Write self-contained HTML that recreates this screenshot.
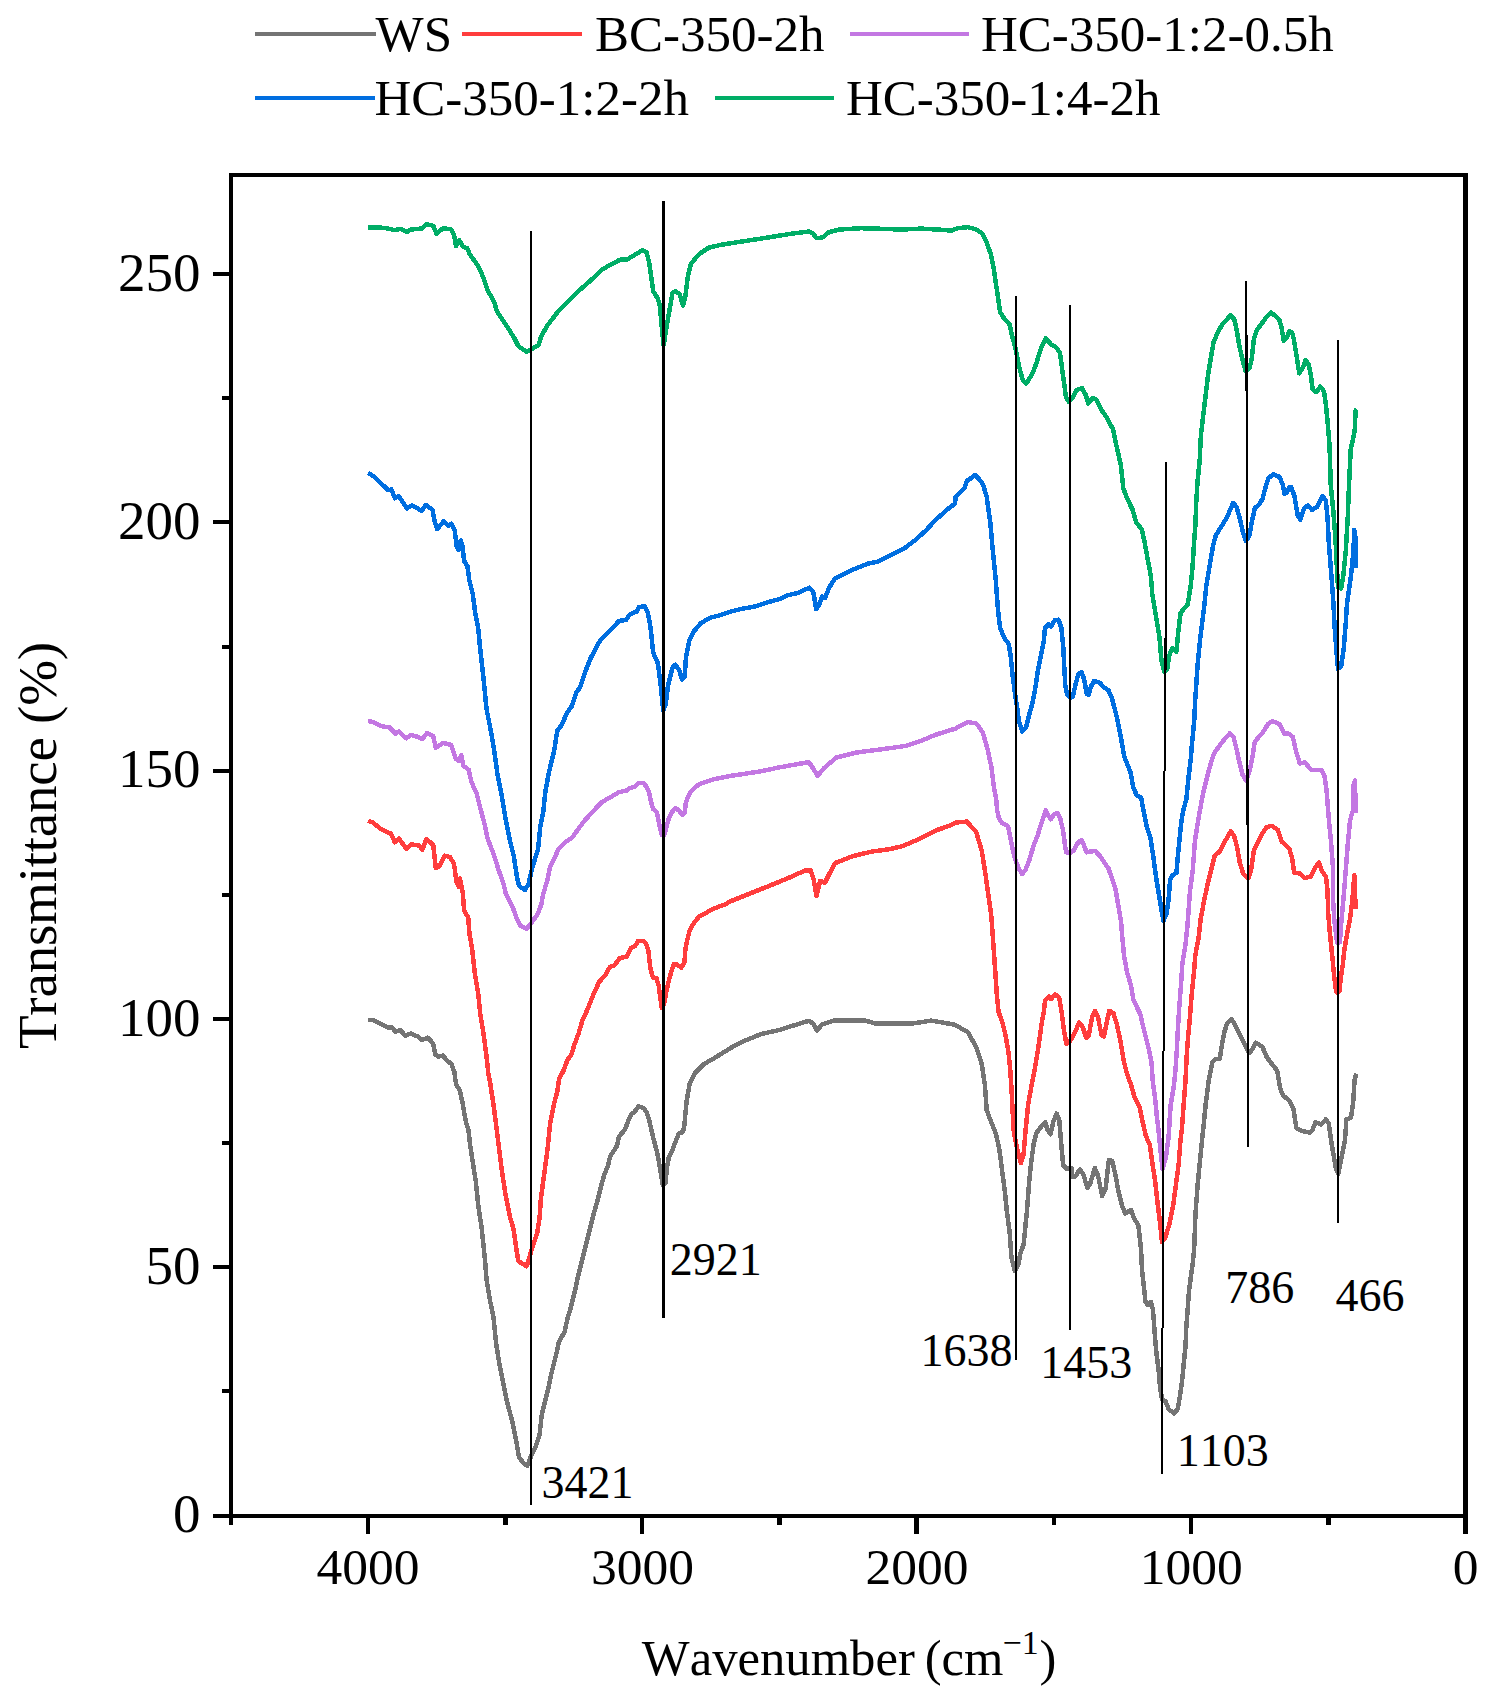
<!DOCTYPE html>
<html><head><meta charset="utf-8"><title>FTIR spectra</title>
<style>html,body{margin:0;padding:0;background:#fff;width:1490px;height:1697px;overflow:hidden}svg{display:block} text{font-kerning:none}</style>
</head><body>
<svg width="1490" height="1697" viewBox="0 0 1490 1697">
<rect x="0" y="0" width="1490" height="1697" fill="#fff"/>
<line x1="255" y1="34" x2="376" y2="34" stroke="#747474" stroke-width="4.2"/>
<text x="375.5" y="51" font-family="'Liberation Serif', 'Times New Roman', serif" font-size="51" fill="#000">WS</text>
<line x1="462" y1="34" x2="582" y2="34" stroke="#FF3D3D" stroke-width="4.2"/>
<text x="595" y="51" font-family="'Liberation Serif', 'Times New Roman', serif" font-size="51" fill="#000">BC-350-2h</text>
<line x1="850" y1="34" x2="969" y2="34" stroke="#C377E2" stroke-width="4.2"/>
<text x="981" y="51" font-family="'Liberation Serif', 'Times New Roman', serif" font-size="51" fill="#000">HC-350-1:2-0.5h</text>
<line x1="255" y1="98" x2="375" y2="98" stroke="#006EE0" stroke-width="4.2"/>
<text x="374.5" y="115" font-family="'Liberation Serif', 'Times New Roman', serif" font-size="51" fill="#000">HC-350-1:2-2h</text>
<line x1="715" y1="98" x2="834" y2="98" stroke="#00AD66" stroke-width="4.2"/>
<text x="846" y="115" font-family="'Liberation Serif', 'Times New Roman', serif" font-size="51" fill="#000">HC-350-1:4-2h</text>
<g fill="none" stroke-width="4.5" stroke-linejoin="round" stroke-linecap="butt" shape-rendering="crispEdges">
<polyline points="367.5,1019.8 372.3,1019.8 378.9,1023.1 383.6,1025.0 388.3,1027.8 392.0,1027.3 395.3,1031.6 400.5,1030.2 405.2,1035.8 410.9,1033.5 418.4,1036.8 421.7,1040.1 427.9,1037.7 433.0,1043.4 435.4,1054.7 438.2,1056.6 442.9,1055.6 446.7,1060.3 451.4,1064.1 454.3,1071.6 456.1,1084.8 459.9,1090.5 462.7,1103.7 465.6,1120.6 468.4,1130.1 470.3,1146.1 472.4,1160.0 475.9,1182.0 478.3,1205.6 481.8,1229.2 485.0,1260.0 486.5,1279.4 489.7,1298.9 493.6,1318.3 496.2,1344.2 499.4,1363.7 503.3,1383.1 507.2,1402.5 512.4,1422.0 516.3,1441.4 518.9,1457.0 522.8,1462.2 527.3,1466.0 531.2,1455.7 535.7,1446.6 539.6,1434.9 541.6,1415.5 544.8,1402.5 548.0,1389.6 550.6,1376.6 553.9,1363.7 557.1,1350.7 559.0,1341.6 564.2,1332.6 565.1,1330.0 567.2,1319.7 570.4,1309.1 573.0,1298.5 575.7,1287.9 577.8,1277.3 580.5,1266.6 583.1,1256.0 585.8,1245.4 588.4,1234.8 591.1,1224.2 593.7,1213.6 596.9,1203.0 599.5,1192.4 602.2,1181.8 604.8,1173.3 608.0,1165.9 610.1,1156.4 617.0,1145.8 619.0,1136.4 625.0,1129.7 628.4,1120.3 631.7,1113.6 634.4,1112.2 638.5,1106.2 643.8,1108.2 646.5,1112.2 649.2,1120.3 653.2,1137.7 657.2,1152.5 659.9,1167.2 662.6,1184.7 665.3,1183.4 667.3,1165.9 668.7,1157.9 672.0,1151.1 676.0,1140.4 678.7,1133.7 682.1,1132.3 684.1,1128.3 685.4,1113.6 686.8,1100.1 689.7,1083.8 695.0,1073.0 703.6,1064.4 714.4,1058.0 733.7,1046.2 744.4,1040.8 761.6,1033.9 778.8,1030.1 798.1,1024.1 808.9,1020.8 813.2,1023.6 817.0,1030.5 821.8,1024.7 834.6,1020.4 864.7,1020.4 875.4,1023.6 912.0,1023.6 931.3,1020.6 954.9,1024.7 967.8,1032.2 976.4,1047.3 981.8,1064.4 985.0,1085.9 986.7,1110.1 990.7,1120.9 996.1,1134.3 999.5,1150.4 1002.1,1170.5 1004.8,1190.7 1006.8,1210.8 1009.5,1230.9 1011.5,1257.8 1014.9,1271.2 1018.3,1264.5 1020.3,1253.8 1023.6,1244.4 1025.6,1224.2 1027.0,1210.8 1029.0,1184.0 1031.0,1163.8 1033.7,1143.7 1036.4,1133.0 1040.4,1127.6 1045.1,1122.2 1047.8,1130.3 1050.5,1134.3 1053.2,1122.2 1056.5,1113.5 1059.2,1119.5 1061.2,1143.7 1063.2,1165.2 1067.2,1169.2 1071.3,1167.9 1072.6,1177.2 1075.3,1176.6 1080.0,1169.2 1083.4,1174.6 1087.4,1188.0 1090.1,1184.0 1094.8,1167.9 1098.1,1175.9 1102.1,1196.0 1105.5,1189.3 1108.9,1159.8 1112.2,1161.1 1115.6,1175.9 1118.3,1190.7 1121.6,1204.1 1125.0,1213.5 1131.0,1210.1 1134.4,1218.9 1138.4,1225.6 1141.1,1250.0 1142.0,1270.0 1144.0,1288.1 1145.5,1302.1 1148.0,1305.1 1151.0,1302.1 1153.0,1310.1 1154.5,1330.2 1156.1,1350.2 1158.6,1370.2 1160.1,1388.3 1162.1,1399.3 1165.6,1401.3 1168.6,1409.3 1174.1,1413.3 1177.6,1409.3 1180.1,1395.3 1182.1,1380.3 1184.1,1360.2 1185.6,1345.2 1186.1,1330.2 1187.6,1310.1 1189.1,1290.1 1191.1,1275.0 1192.6,1265.0 1194.1,1250.0 1195.5,1213.6 1197.7,1184.1 1200.6,1154.7 1203.6,1125.2 1205.8,1103.1 1208.7,1081.0 1212.4,1061.9 1215.4,1058.9 1219.8,1058.9 1222.0,1044.2 1224.2,1032.4 1227.1,1023.6 1231.6,1019.1 1235.2,1025.0 1240.4,1035.4 1245.5,1045.7 1249.2,1053.0 1252.9,1048.6 1255.9,1042.7 1262.5,1047.1 1266.9,1057.4 1271.3,1063.3 1277.2,1070.7 1280.2,1088.4 1283.1,1095.7 1289.0,1100.2 1293.4,1109.0 1296.4,1128.1 1302.3,1131.1 1309.6,1132.6 1312.6,1129.6 1315.5,1122.3 1321.4,1124.5 1325.8,1119.3 1328.8,1123.7 1331.7,1144.4 1336.1,1169.4 1338.3,1173.8 1340.6,1162.0 1345.0,1139.9 1346.4,1119.3 1350.9,1117.8 1353.1,1103.1 1354.5,1081.0 1356.0,1073.6" stroke="#747474"/>
<polyline points="368.1,820.8 373.4,822.8 378.8,827.5 384.2,830.9 390.9,833.6 394.9,842.3 398.9,838.3 406.3,849.0 411.0,844.3 419.1,845.6 422.4,849.7 426.4,838.9 433.2,845.0 435.8,867.8 439.2,866.4 444.6,855.7 449.9,857.0 454.0,863.8 456.6,882.6 458.8,886.7 460.0,878.5 462.8,893.4 464.2,910.9 468.2,917.6 469.5,933.7 472.2,949.8 474.9,974.0 478.3,994.1 480.3,1014.2 483.6,1034.4 486.3,1054.5 488.5,1075.0 490.0,1081.8 493.6,1105.4 495.9,1123.1 498.9,1146.7 501.8,1170.2 505.4,1193.8 510.1,1217.4 513.6,1229.2 516.0,1246.9 518.3,1261.0 521.9,1263.4 526.6,1266.3 529.0,1258.7 532.5,1246.9 537.2,1232.7 539.6,1217.4 540.8,1199.7 543.1,1182.0 545.5,1164.3 547.8,1146.7 550.2,1123.1 553.7,1105.4 557.3,1091.2 559.0,1079.4 563.5,1070.6 567.5,1059.9 571.5,1054.5 574.2,1045.1 578.3,1034.4 582.3,1020.9 587.7,1008.9 593.0,995.4 599.1,982.0 605.1,975.3 609.8,967.2 614.5,965.2 619.9,957.9 626.4,956.9 630.7,948.3 635.0,946.2 638.3,940.8 643.1,940.8 646.3,944.0 648.5,951.5 650.1,966.6 652.8,977.3 656.5,978.4 658.7,985.9 661.8,1007.8 664.0,1004.2 666.2,992.3 668.3,982.7 671.5,970.9 673.7,964.4 676.9,964.4 681.2,967.7 684.4,962.3 685.5,948.3 687.1,940.8 689.8,930.1 694.1,922.6 699.5,916.1 705.9,912.9 711.3,909.7 716.6,907.5 725.2,904.3 730.0,901.5 748.8,894.0 767.6,886.5 786.4,878.9 805.2,870.5 810.8,870.5 813.6,878.9 816.5,895.8 820.2,880.8 824.9,882.7 829.6,873.3 835.2,863.0 842.8,860.1 852.2,856.4 871.0,851.7 889.7,849.2 902.9,846.0 917.9,839.5 936.7,830.1 948.0,826.3 955.5,822.6 966.8,821.6 976.2,832.0 981.8,850.7 985.6,875.2 989.1,900.0 991.5,917.7 992.7,935.3 994.4,958.9 995.6,976.6 996.8,994.3 998.6,1011.9 1002.7,1023.7 1005.6,1035.5 1008.6,1053.2 1010.3,1070.9 1011.5,1088.5 1013.6,1130.3 1016.9,1147.7 1020.9,1163.2 1023.6,1154.4 1025.6,1130.3 1028.3,1103.4 1032.1,1082.6 1034.5,1070.9 1037.4,1053.2 1039.2,1041.4 1041.6,1023.7 1043.9,1011.9 1045.1,1000.2 1048.6,996.6 1051.0,999.0 1055.1,994.3 1059.2,997.8 1061.6,1011.9 1063.9,1029.6 1066.3,1043.7 1069.8,1041.4 1073.4,1035.5 1079.3,1022.5 1082.8,1027.3 1086.3,1037.9 1088.7,1035.5 1092.2,1016.6 1095.2,1010.8 1098.1,1017.8 1101.6,1035.5 1104.0,1036.7 1106.4,1023.7 1109.3,1010.8 1113.4,1013.1 1117.0,1024.9 1120.5,1041.4 1123.4,1059.1 1126.4,1072.0 1131.1,1085.0 1134.4,1096.7 1139.7,1107.4 1142.4,1120.9 1145.8,1135.6 1149.8,1145.0 1152.5,1163.8 1155.2,1181.3 1157.2,1200.1 1159.9,1221.5 1161.9,1241.7 1165.2,1237.7 1169.3,1224.2 1173.3,1204.1 1176.0,1184.0 1178.7,1163.8 1180.5,1140.0 1181.8,1130.0 1183.6,1105.6 1185.5,1080.9 1186.7,1056.1 1188.0,1037.6 1189.8,1019.0 1191.7,994.3 1194.2,969.5 1195.4,954.7 1198.5,938.6 1200.6,919.3 1204.1,900.9 1207.6,884.0 1211.9,867.0 1214.7,855.7 1220.0,851.3 1225.7,840.0 1230.6,831.5 1234.1,835.7 1237.0,847.0 1239.8,862.6 1243.3,873.9 1248.3,878.1 1251.1,869.7 1253.9,849.9 1257.5,842.8 1261.7,834.3 1266.7,827.2 1271.6,825.8 1278.0,830.1 1281.5,841.4 1289.3,848.5 1292.1,858.3 1294.2,872.5 1299.2,873.2 1304.8,878.1 1310.5,876.7 1314.7,868.2 1319.0,862.6 1321.8,871.1 1326.0,876.7 1327.5,890.9 1328.2,913.0 1329.2,925.9 1330.5,938.9 1331.8,951.8 1333.1,964.8 1334.3,977.8 1336.0,990.7 1337.5,993.0 1339.5,990.7 1340.8,977.8 1342.8,964.8 1344.1,951.8 1346.0,940.2 1348.0,929.2 1349.9,919.4 1352.2,902.2 1354.3,875.3 1355.7,909.2" stroke="#FF3D3D"/>
<polyline points="368.1,720.8 374.8,722.8 381.5,726.2 389.5,727.5 395.6,733.6 398.9,731.5 406.3,738.3 411.0,734.9 417.7,736.9 422.4,738.9 427.1,732.9 433.2,736.2 435.8,747.7 443.2,743.0 451.3,745.0 456.0,759.1 459.3,761.1 461.3,755.0 463.4,765.8 468.7,769.8 471.4,781.9 476.8,794.0 480.8,810.1 484.8,824.8 487.5,838.3 494.2,855.7 498.3,869.1 503.6,883.9 505.8,893.4 512.5,906.8 516.5,917.6 520.5,925.6 526.6,929.0 531.3,923.0 538.0,913.6 541.3,904.2 543.4,893.4 547.4,880.0 549.8,868.0 558.7,848.8 566.0,841.5 571.9,837.8 577.8,829.7 583.7,821.6 591.1,813.5 601.4,802.4 610.2,797.3 619.1,792.1 626.4,790.6 630.0,788.1 635.4,786.4 638.1,783.2 644.0,783.2 647.2,788.1 649.3,793.4 650.9,801.5 653.1,809.0 656.8,812.2 658.5,820.3 660.1,828.3 661.7,834.8 664.4,834.8 666.5,827.2 668.7,818.7 671.9,812.2 675.6,807.9 679.4,811.1 682.1,814.9 684.8,812.2 685.8,802.6 688.0,797.2 690.7,791.8 695.5,787.0 699.8,783.8 705.2,782.1 714.5,779.0 731.9,775.7 756.7,772.0 781.5,767.0 808.9,762.1 813.8,769.5 817.6,775.7 823.8,768.3 836.2,757.6 856.0,752.6 888.3,748.4 905.7,745.9 920.6,741.0 935.5,734.8 955.4,728.6 967.8,721.9 976.5,723.6 982.7,732.3 987.7,749.7 991.4,767.0 993.9,786.9 996.3,800.0 997.2,810.5 998.9,818.3 1002.0,823.1 1008.1,826.2 1009.8,834.9 1011.6,843.6 1013.3,852.4 1015.9,861.1 1018.6,868.1 1022.1,874.2 1025.5,869.8 1029.0,861.1 1031.6,852.4 1034.3,843.6 1037.8,834.9 1040.4,826.2 1043.4,817.5 1045.6,810.5 1047.8,814.8 1050.8,819.2 1054.3,814.0 1057.8,813.1 1060.4,819.2 1063.1,830.5 1064.8,843.6 1066.1,852.4 1070.9,852.4 1073.5,850.6 1077.9,842.8 1081.4,840.1 1084.0,845.4 1086.6,852.4 1090.1,851.5 1095.3,851.0 1100.6,856.7 1105.0,863.7 1108.4,868.1 1111.9,878.5 1115.0,887.3 1116.7,896.0 1118.9,909.1 1121.1,922.2 1122.4,938.6 1124.2,957.1 1127.3,973.2 1131.0,985.6 1133.5,1000.4 1140.3,1014.1 1142.8,1025.2 1145.9,1037.6 1149.0,1050.0 1151.5,1062.3 1152.7,1080.9 1155.2,1099.5 1157.0,1118.0 1158.5,1130.3 1160.5,1150.4 1162.6,1169.2 1165.9,1157.1 1168.6,1137.0 1170.6,1105.6 1173.7,1087.1 1175.6,1068.5 1176.8,1050.0 1178.1,1025.2 1179.3,1006.6 1181.2,981.9 1182.4,963.3 1185.5,944.8 1187.4,926.2 1188.5,912.0 1190.0,891.0 1192.8,869.8 1194.9,841.5 1197.0,827.4 1199.9,810.4 1203.4,792.0 1207.6,775.0 1211.9,759.4 1214.7,752.4 1221.8,742.5 1224.2,739.6 1229.9,733.2 1233.4,736.8 1236.3,748.1 1239.1,760.8 1242.6,774.9 1246.2,780.6 1249.7,770.7 1252.5,756.6 1254.6,742.4 1258.2,737.5 1262.4,733.2 1268.1,724.0 1272.3,721.2 1279.4,724.0 1284.3,733.9 1287.9,733.2 1292.8,736.8 1296.3,752.3 1299.9,763.6 1304.8,762.2 1311.2,770.0 1321.8,770.0 1324.6,776.3 1326.7,791.9 1328.9,820.2 1331.0,841.4 1333.1,869.7 1333.1,900.0 1334.3,919.4 1336.3,937.0 1337.5,943.0 1339.9,942.1 1341.5,919.4 1343.4,900.0 1345.8,869.7 1348.0,841.4 1350.1,820.2 1352.9,810.3 1353.6,784.8 1355.0,780.6 1355.7,813.1" stroke="#C377E2"/>
<polyline points="368.1,472.8 373.4,476.1 380.1,482.8 384.2,486.2 388.2,490.2 391.5,489.5 394.9,498.3 398.9,496.2 404.3,504.3 407.0,508.3 411.7,505.6 416.4,507.7 421.7,511.0 425.8,505.0 432.5,509.7 434.5,520.4 437.2,529.1 443.9,521.1 448.6,525.8 451.3,523.8 454.6,529.8 456.6,545.9 458.7,549.9 460.7,540.5 462.7,547.2 464.0,560.7 467.4,566.0 469.4,580.8 472.8,594.2 475.4,614.4 478.1,627.8 480.1,647.9 481.5,660.0 483.6,679.5 486.5,708.9 490.9,731.0 494.6,753.1 497.6,775.2 502.0,797.3 505.7,819.4 510.1,841.5 513.8,856.2 516.7,875.3 518.9,885.6 524.8,890.1 528.5,884.2 532.2,868.0 538.1,848.8 540.3,826.7 543.2,812.0 545.4,791.4 548.4,775.2 550.6,764.9 554.3,750.1 557.2,731.0 561.6,725.1 566.8,713.3 571.9,706.0 576.3,692.7 580.0,687.5 585.4,671.4 590.7,658.0 600.1,640.5 608.2,632.5 612.2,628.5 618.9,621.1 626.3,619.7 629.7,614.4 636.4,611.7 639.1,607.0 644.4,606.3 647.8,612.3 650.5,627.1 653.2,652.6 657.9,663.4 660.5,683.5 663.2,710.5 665.9,703.6 667.9,686.2 672.6,667.4 675.3,664.7 679.3,670.1 682.0,679.5 684.7,676.8 686.0,656.6 689.4,640.5 694.1,631.1 700.8,623.1 710.2,617.7 720.9,615.0 730.3,611.7 741.1,609.0 755.8,606.3 767.9,602.3 780.0,598.9 785.9,595.8 797.7,592.9 809.5,587.7 813.2,591.4 816.2,609.1 819.1,604.7 822.1,596.6 825.0,598.0 829.5,587.0 835.4,578.1 842.0,575.2 853.8,569.3 868.6,563.4 877.4,561.9 889.3,556.0 904.0,548.6 915.8,539.7 926.2,530.1 935.0,520.5 942.4,513.9 948.3,508.7 955.0,503.6 955.7,496.9 964.6,488.1 966.8,480.7 971.9,477.7 974.9,474.8 978.6,478.5 983.0,484.4 986.7,496.9 990.4,523.5 992.6,548.6 995.6,578.1 997.8,607.6 998.6,616.0 1000.3,628.2 1004.1,637.6 1008.8,644.2 1010.7,656.4 1012.6,675.2 1014.4,689.3 1017.2,708.1 1019.1,722.1 1022.4,731.5 1026.2,726.8 1028.5,717.4 1032.3,703.4 1035.1,689.3 1037.9,670.5 1040.7,656.4 1043.6,642.3 1045.0,628.2 1048.3,624.4 1051.1,626.3 1054.8,620.2 1058.6,619.7 1061.4,628.2 1063.3,647.0 1064.2,665.8 1065.2,684.6 1067.0,694.0 1069.9,697.7 1072.7,696.8 1075.5,684.6 1078.3,674.2 1081.6,672.3 1084.0,678.9 1086.8,694.0 1088.7,694.9 1091.0,686.4 1094.3,680.8 1099.9,682.7 1103.7,687.4 1108.4,690.2 1112.1,698.7 1117.1,718.4 1121.3,739.6 1124.2,756.6 1130.5,772.2 1133.3,787.7 1136.9,795.5 1141.1,797.6 1144.0,813.2 1146.8,827.4 1150.3,837.3 1153.2,855.7 1156.0,876.9 1159.5,898.1 1163.4,921.0 1166.6,913.7 1168.7,898.1 1170.1,879.7 1172.3,875.5 1176.5,872.6 1177.9,855.7 1179.3,841.5 1181.5,820.3 1183.6,809.0 1186.4,799.1 1188.5,777.8 1190.7,759.4 1192.1,742.5 1194.2,721.2 1195.2,700.0 1197.6,665.1 1200.4,636.8 1204.0,608.5 1206.1,587.3 1209.6,566.1 1213.2,544.9 1216.0,535.0 1223.1,523.6 1227.3,516.6 1233.0,503.1 1236.5,506.7 1240.0,519.4 1242.9,532.1 1245.7,540.6 1249.2,536.4 1252.1,520.8 1254.9,508.1 1259.8,503.8 1262.7,498.2 1264.8,489.7 1268.3,478.4 1273.3,474.1 1279.6,477.0 1282.5,484.0 1284.6,494.0 1286.7,492.5 1289.5,486.9 1291.3,487.2 1294.5,496.3 1297.8,515.8 1300.4,519.7 1304.3,508.0 1308.2,505.4 1312.0,509.9 1317.2,506.7 1322.4,496.3 1325.7,500.2 1327.6,518.4 1328.9,544.3 1331.5,576.7 1333.4,602.6 1334.7,628.6 1336.7,654.5 1338.0,668.8 1341.2,666.2 1343.8,648.0 1345.8,622.1 1347.1,602.6 1349.0,589.7 1350.9,576.7 1352.2,563.7 1353.5,550.8 1354.2,530.0 1355.5,537.8 1356.1,567.6" stroke="#006EE0"/>
<polyline points="368.1,227.5 380.1,227.5 388.2,228.5 394.9,230.2 400.3,228.9 407.0,232.0 411.0,229.5 421.7,228.5 426.4,224.2 433.2,225.8 436.5,233.6 443.2,228.2 451.3,229.5 454.0,234.9 456.0,246.3 459.3,240.3 463.4,247.0 467.4,248.3 469.4,253.7 474.1,260.4 478.1,265.8 483.5,277.9 487.5,289.9 494.2,302.0 496.9,311.4 502.3,319.5 507.7,327.5 514.4,338.3 518.4,346.3 526.4,351.7 531.8,349.0 538.5,345.0 541.2,336.2 547.7,325.0 558.9,310.5 568.6,300.8 576.6,292.8 589.5,281.5 602.4,269.4 612.1,263.8 620.1,259.7 626.6,259.7 634.6,254.9 642.7,250.1 646.7,252.5 649.1,262.2 653.2,291.1 657.2,297.6 659.6,304.0 663.6,345.5 666.9,325.0 672.5,292.8 675.7,291.1 679.7,294.4 683.0,305.6 685.4,296.0 687.8,276.6 691.0,263.8 699.1,254.1 708.7,247.7 720.0,245.0 730.2,243.3 760.4,238.7 790.6,233.8 808.7,231.6 812.7,233.2 816.8,238.3 822.8,237.2 828.9,232.2 838.9,229.6 861.1,228.2 881.2,228.8 901.3,229.6 921.5,228.6 941.6,229.8 951.7,230.6 957.7,228.2 967.8,227.2 975.8,229.2 981.9,233.2 985.9,240.3 990.9,254.4 994.0,270.5 997.4,293.4 1000.1,312.2 1003.5,317.6 1009.5,324.3 1012.2,336.4 1015.6,348.5 1018.9,365.9 1023.0,380.7 1026.3,383.4 1032.3,374.0 1036.4,363.2 1040.4,349.8 1045.8,338.4 1051.1,344.4 1055.8,347.1 1059.9,352.5 1063.2,376.6 1065.9,396.8 1068.6,401.5 1072.6,398.1 1076.6,390.1 1082.0,388.1 1086.0,395.4 1088.1,403.5 1092.8,398.1 1096.8,400.1 1100.8,408.9 1106.2,416.9 1112.9,429.0 1116.9,447.8 1120.9,465.2 1123.3,488.3 1127.6,499.6 1132.5,509.5 1136.1,522.2 1141.7,529.3 1144.6,542.0 1148.1,561.8 1150.9,576.0 1152.3,594.4 1155.9,615.6 1159.4,636.8 1161.5,660.8 1164.4,672.2 1167.2,669.3 1169.3,655.2 1172.1,648.1 1176.4,651.7 1178.5,629.7 1180.6,612.8 1184.2,608.5 1187.7,604.3 1190.5,587.3 1192.6,566.1 1194.1,542.0 1195.5,523.6 1196.2,502.4 1197.6,481.2 1199.7,460.0 1200.9,435.0 1204.5,404.8 1208.1,374.6 1210.5,360.0 1213.6,342.0 1217.8,332.3 1222.6,323.8 1226.2,320.2 1230.5,315.4 1234.1,319.0 1236.5,328.7 1239.5,346.8 1243.2,362.5 1245.6,370.9 1249.2,368.5 1251.6,360.0 1254.0,338.3 1257.0,329.9 1262.5,322.6 1266.7,316.6 1270.9,312.3 1274.6,315.4 1279.4,320.2 1281.8,328.7 1283.6,340.7 1286.6,338.3 1289.1,331.1 1292.1,332.3 1293.9,339.5 1296.3,354.0 1299.3,373.4 1303.0,367.3 1305.4,360.0 1308.4,363.7 1310.8,374.6 1312.6,389.1 1316.2,392.1 1320.5,386.6 1324.1,391.5 1325.9,404.8 1327.7,422.9 1329.5,445.0 1330.8,485.9 1333.4,511.9 1335.4,537.8 1336.7,563.7 1338.0,587.1 1341.2,588.4 1343.2,576.7 1345.8,550.8 1347.7,518.4 1348.8,490.0 1350.7,449.5 1353.1,438.6 1354.9,428.9 1355.5,410.8 1356.5,409.0" stroke="#00AD66"/>
</g>
<g stroke="#000" shape-rendering="crispEdges">
<line x1="531.0" y1="231" x2="531.0" y2="1504.5" stroke-width="2"/>
<line x1="663.5" y1="201" x2="663.5" y2="1317.5" stroke-width="3"/>
<line x1="1016.0" y1="296" x2="1016.0" y2="1359.5" stroke-width="2"/>
<line x1="1070.0" y1="305" x2="1070.0" y2="1330" stroke-width="2"/>
<line x1="1166.0" y1="462" x2="1166.0" y2="670" stroke-width="2"/>
<line x1="1165.0" y1="638" x2="1162.0" y2="1474.5" stroke-width="2"/>
<line x1="1246.0" y1="281" x2="1246.0" y2="390.6" stroke-width="2"/>
<line x1="1247.0" y1="335" x2="1247.0" y2="824.8" stroke-width="2"/>
<line x1="1248.0" y1="769" x2="1248.0" y2="1147" stroke-width="2"/>
<line x1="1338.0" y1="340" x2="1338.0" y2="1222.5" stroke-width="2"/>
</g>
<text x="541.5" y="1497.5" font-family="'Liberation Serif', 'Times New Roman', serif" font-size="46" fill="#000">3421</text>
<text x="669.8" y="1274.5" font-family="'Liberation Serif', 'Times New Roman', serif" font-size="46" fill="#000">2921</text>
<text x="920.5" y="1366" font-family="'Liberation Serif', 'Times New Roman', serif" font-size="46" fill="#000">1638</text>
<text x="1040.3" y="1378" font-family="'Liberation Serif', 'Times New Roman', serif" font-size="46" fill="#000">1453</text>
<text x="1176.8" y="1465.5" font-family="'Liberation Serif', 'Times New Roman', serif" font-size="46" fill="#000">1103</text>
<text x="1225.3" y="1303" font-family="'Liberation Serif', 'Times New Roman', serif" font-size="46" fill="#000">786</text>
<text x="1335.6" y="1311" font-family="'Liberation Serif', 'Times New Roman', serif" font-size="46" fill="#000">466</text>
<g fill="#000" shape-rendering="crispEdges">
<rect x="229" y="173" width="1239" height="4"/>
<rect x="229" y="1514" width="1239" height="4"/>
<rect x="229" y="173" width="4" height="1352"/>
<rect x="1463" y="173" width="5" height="1361"/>
<rect x="366" y="1516" width="4" height="18"/>
<rect x="640" y="1516" width="4" height="18"/>
<rect x="914" y="1516" width="5" height="18"/>
<rect x="1189" y="1516" width="4" height="18"/>
<rect x="503" y="1516" width="5" height="9"/>
<rect x="777" y="1516" width="5" height="9"/>
<rect x="1052" y="1516" width="4" height="9"/>
<rect x="1326" y="1516" width="5" height="9"/>
<rect x="213" y="1514" width="18" height="4"/>
<rect x="222" y="1389" width="9" height="4"/>
<rect x="213" y="1265" width="18" height="4"/>
<rect x="222" y="1141" width="9" height="4"/>
<rect x="213" y="1017" width="18" height="4"/>
<rect x="222" y="893" width="9" height="4"/>
<rect x="213" y="769" width="18" height="4"/>
<rect x="222" y="645" width="9" height="4"/>
<rect x="213" y="520" width="18" height="4"/>
<rect x="222" y="396" width="9" height="4"/>
<rect x="213" y="272" width="18" height="4"/>
</g>
<text x="368.1" y="1584" text-anchor="middle" font-family="'Liberation Serif', 'Times New Roman', serif" font-size="51.5" fill="#000">4000</text>
<text x="642.5" y="1584" text-anchor="middle" font-family="'Liberation Serif', 'Times New Roman', serif" font-size="51.5" fill="#000">3000</text>
<text x="916.9" y="1584" text-anchor="middle" font-family="'Liberation Serif', 'Times New Roman', serif" font-size="51.5" fill="#000">2000</text>
<text x="1191.3" y="1584" text-anchor="middle" font-family="'Liberation Serif', 'Times New Roman', serif" font-size="51.5" fill="#000">1000</text>
<text x="1465.7" y="1584" text-anchor="middle" font-family="'Liberation Serif', 'Times New Roman', serif" font-size="51.5" fill="#000">0</text>
<text x="200.5" y="1532.0" text-anchor="end" font-family="'Liberation Serif', 'Times New Roman', serif" font-size="55" fill="#000">0</text>
<text x="200.5" y="1283.8" text-anchor="end" font-family="'Liberation Serif', 'Times New Roman', serif" font-size="55" fill="#000">50</text>
<text x="200.5" y="1035.5" text-anchor="end" font-family="'Liberation Serif', 'Times New Roman', serif" font-size="55" fill="#000">100</text>
<text x="200.5" y="787.2" text-anchor="end" font-family="'Liberation Serif', 'Times New Roman', serif" font-size="55" fill="#000">150</text>
<text x="200.5" y="539.0" text-anchor="end" font-family="'Liberation Serif', 'Times New Roman', serif" font-size="55" fill="#000">200</text>
<text x="200.5" y="290.8" text-anchor="end" font-family="'Liberation Serif', 'Times New Roman', serif" font-size="55" fill="#000">250</text>
<text x="641.8" y="1675.3" font-family="'Liberation Serif', 'Times New Roman', serif" font-size="50.7" fill="#000">Wavenumber<tspan dx="-2.8"> (cm</tspan><tspan font-size="34" dx="-0.9" dy="-21">−1</tspan><tspan dx="0.6" dy="21">)</tspan></text>
<text transform="translate(56,1049) rotate(-90)" x="0" y="0" font-family="'Liberation Serif', 'Times New Roman', serif" font-size="55" letter-spacing="-0.23" fill="#000">Transmittance (%)</text>
</svg>
</body></html>
